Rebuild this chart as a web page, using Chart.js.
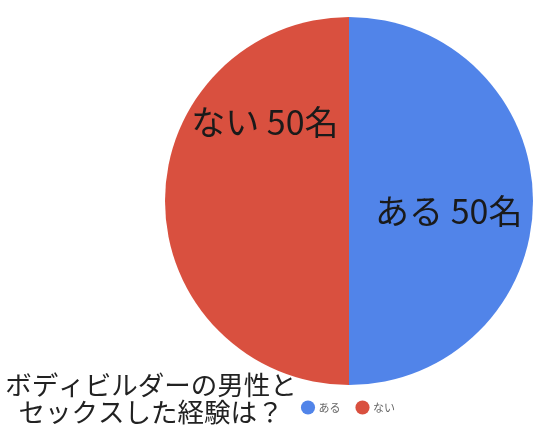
<!DOCTYPE html>
<html>
<head>
<meta charset="utf-8">
<script src="https://cdn.jsdelivr.net/npm/chart.js@4/dist/chart.umd.min.js"></script>
<style>
  html, body { margin: 0; padding: 0; background: #fff; }
  #wrap { width: 540px; height: 436px; }
</style>
</head>
<body>
<div id="wrap"><canvas id="pieChart"></canvas></div>
<script>
const categories = ['ある', 'ない'];
const counts = [50, 50];
const sliceColors = ['#5184E9', '#D9503F'];
const titleLines = ['ボディビルダーの男性と', 'セックスした経験は？'];
const unit = '名';

const FONT = '"Noto Sans CJK JP", "Noto Sans", sans-serif';

// slice labels: direction (deg, 0 = right) and distance as a fraction of the radius
const labelSpots = [
    { angle: 6, dist: 0.545 },
    { angle: -137, dist: 0.625 }
];

const sliceLabels = {
    id: 'sliceLabels',
    afterDatasetsDraw(chart) {
        const ctx = chart.ctx;
        const meta = chart.getDatasetMeta(0);
        ctx.save();
        ctx.font = '34px ' + FONT;
        ctx.fillStyle = '#1a1a1a';
        ctx.textAlign = 'center';
        ctx.textBaseline = 'middle';
        meta.data.forEach((arc, i) => {
            const spot = labelSpots[i];
            const a = spot.angle * Math.PI / 180;
            const r = arc.outerRadius * spot.dist;
            ctx.fillText(categories[i] + ' ' + counts[i] + unit, arc.x + Math.cos(a) * r, arc.y + Math.sin(a) * r);
        });
        ctx.restore();
    }
};

const bottomTitle = {
    id: 'bottomTitle',
    afterDraw(chart) {
        const ctx = chart.ctx;
        ctx.save();
        ctx.font = '26.5px ' + FONT;
        ctx.fillStyle = '#222';
        ctx.textAlign = 'center';
        ctx.textBaseline = 'middle';
        ctx.fillText(titleLines[0], 151, 385);
        ctx.fillText(titleLines[1], 151, 412);
        ctx.restore();
    }
};

new Chart(document.getElementById('pieChart').getContext('2d'), {
    type: 'pie',
    data: {
        labels: categories,
        datasets: [{
            data: counts,
            backgroundColor: sliceColors,
            borderWidth: 0
        }]
    },
    options: {
        responsive: true,
        maintainAspectRatio: false,
        animation: false,
        layout: { padding: { left: 165, right: 7, top: 17, bottom: 13 } },
        plugins: {
            legend: {
                position: 'bottom',
                labels: {
                    usePointStyle: true,
                    pointStyle: 'circle',
                    boxWidth: 10,
                    boxHeight: 10,
                    padding: 17,
                    color: '#666',
                    font: { family: FONT, size: 11 }
                }
            },
            tooltip: { enabled: false },
            title: { display: false }
        }
    },
    plugins: [sliceLabels, bottomTitle]
});
</script>
</body>
</html>
